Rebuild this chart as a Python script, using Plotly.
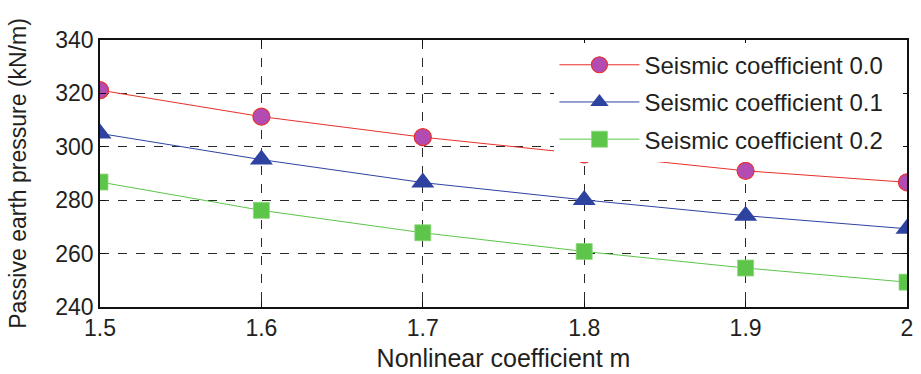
import plotly.graph_objects as go

m_values = [1.5, 1.6, 1.7, 1.8, 1.9, 2.0]
seismic_00 = [321.2, 311.3, 303.6, 297.2, 291.0, 286.7]
seismic_01 = [305.0, 295.2, 286.6, 280.1, 274.2, 269.3]
seismic_02 = [286.8, 276.2, 267.8, 260.8, 254.6, 249.3]
series_names = ["Seismic coefficient 0.0", "Seismic coefficient 0.1", "Seismic coefficient 0.2"]
x_ticks = [1.5, 1.6, 1.7, 1.8, 1.9, 2.0]
x_tick_labels = ["1.5", "1.6", "1.7", "1.8", "1.9", "2"]
y_ticks = [240, 260, 280, 300, 320, 340]

FONT = "Liberation Sans, Arial, Helvetica, sans-serif"
TXT = "#231f20"

fig = go.Figure()
fig.add_trace(go.Scatter(
    x=m_values, y=seismic_00, name=series_names[0], mode="lines+markers", legendgroup="a",
    line=dict(color="#e8302a", width=1),
    marker=dict(symbol="circle", size=17, color="#b24cb2", line=dict(color="#e8302a", width=1.2)),
))
fig.add_trace(go.Scatter(
    x=m_values, y=seismic_01, name=series_names[1], mode="lines+markers", legendgroup="b",
    line=dict(color="#2e42a0", width=1),
    marker=dict(symbol="triangle-up", size=20, color="#2e42a0", line=dict(width=0)),
))
fig.add_trace(go.Scatter(
    x=m_values, y=seismic_02, name=series_names[2], mode="lines+markers", legendgroup="c",
    line=dict(color="#5cc54a", width=1),
    marker=dict(symbol="square", size=16, color="#5cc54a", line=dict(color="#8fd87e", width=0.8)),
))

axis_common = dict(
    showline=True, linecolor="#111", linewidth=1.5, mirror="ticks",
    ticks="inside", ticklen=6, tickcolor="#111", tickwidth=1,
    showgrid=True, gridcolor="#2a2a2a", gridwidth=1, griddash="dash",
    zeroline=False, tickfont=dict(family=FONT, size=23, color=TXT),
    automargin=False,
)

fig.update_xaxes(
    range=[1.5, 2.0], tickvals=x_ticks, ticktext=x_tick_labels,
    title=dict(text="Nonlinear coefficient m", font=dict(family=FONT, size=25, color=TXT), standoff=9),
    **axis_common,
)
fig.update_yaxes(
    range=[240, 340], tickvals=y_ticks,
    title=dict(text="Passive earth pressure (kN/m)", font=dict(family=FONT, size=23, color=TXT), standoff=22),
    **axis_common,
)

# white strip extending the legend's background to the right, as in the reference
fig.add_shape(
    type="rect", xref="x domain", yref="y domain",
    x0=0.97, x1=0.995, y0=0.555, y1=0.985,
    fillcolor="white", line=dict(width=0), layer="above",
)

fig.update_layout(
    width=921, height=374,
    margin=dict(l=100, r=14, t=40, b=67, autoexpand=False),
    paper_bgcolor="white", plot_bgcolor="white",
    showlegend=True,
    legend=dict(
        x=0.977, xanchor="right", y=0.99, yanchor="top",
        bgcolor="white", borderwidth=0,
        font=dict(family=FONT, size=24, color=TXT),
        itemwidth=80, tracegroupgap=3,
    ),
)

fig.write_html(
    "out.html",
    config={"displayModeBar": False},
    post_script="document.body.style.margin='0';document.body.style.padding='0';",
)
